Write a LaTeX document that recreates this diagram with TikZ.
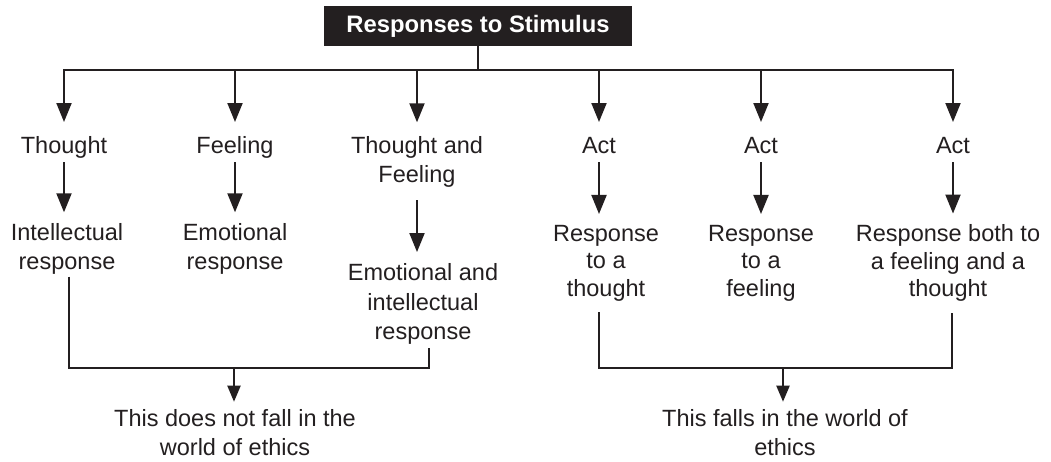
\documentclass[tikz,border=0pt]{standalone}
\usepackage{fontspec}
\setmainfont{Liberation Sans}
\usetikzlibrary{arrows.meta}
\definecolor{ink}{HTML}{231F20}
\begin{document}
\begin{tikzpicture}[x=1pt,y=-1pt,
  every node/.style={inner sep=0pt,outer sep=0pt,text=ink},
  txt/.style={align=center,font=\fontsize{23.5}{29.5}\selectfont},
  txtr/.style={align=center,font=\fontsize{23.5}{27.5}\selectfont},
  txtb/.style={align=center,font=\fontsize{23.5}{28.3}\selectfont},
  one/.style={text height=17pt,text depth=5pt},
  link/.style={draw=ink,line width=2pt,line join=miter},
  arr/.style={link,-{Triangle[length=19pt,width=15pt]}},
  arrs/.style={link,-{Triangle[length=16pt,width=13pt]}},
  head/.style={fill=ink,text=white,font=\fontsize{23.8}{27}\selectfont\bfseries,
    minimum width=308pt,minimum height=40pt}
]
\useasboundingbox (0,0) rectangle (1051,461);

% heading
\node[head] (title) at (478,26) {Responses to Stimulus};
\coordinate (bus) at (478,70);

% first row: kinds of response
\node[txt,one] (t1) at (64,147) {Thought};
\node[txt,one] (t2) at (235,147) {Feeling};
\node[txt] (t3) at (417,162) {Thought and\\Feeling};
\node[txt,one] (t4) at (599,147) {Act};
\node[txt,one] (t5) at (761,147) {Act};
\node[txt,one] (t6) at (953,147) {Act};

% second row: what each one is
\node[txt] (r1) at (67,249) {Intellectual\\response};
\node[txt] (r2) at (235,249) {Emotional\\response};
\node[txt] (r3) at (423,304) {Emotional and\\intellectual\\response};
\node[txtr] (r4) at (606,263) {Response\\to a\\thought};
\node[txtr] (r5) at (761,263) {Response\\to a\\feeling};
\node[txtr] (r6) at (948,263) {Response both to\\a feeling and a\\thought};

% conclusions
\coordinate (lj) at (234,368);
\coordinate (rj) at (783,368);
\node[txtb] (b1) at (235,432.5) {This does not fall in the\\world of ethics};
\node[txtb] (b2) at (785,432.5) {This falls in the world of\\ethics};

% heading to the branches
\draw[link] (title.south) -- (bus);
\draw[link,line cap=rect] (t1.north |- bus) -- (t6.north |- bus);
\foreach \n in {t1,t2,t3,t4,t5,t6}
  \draw[arr,shorten >=14pt] (\n.north |- bus) -- (\n.north);

% branches to their responses
\foreach \a/\b in {t1/r1,t2/r2,t4/r4,t5/r5,t6/r6}
  \draw[arr,shorten <=4pt,shorten >=11pt] (\a.south) -- (\a.south |- \b.north);
\draw[arr,shorten <=12.5pt,shorten >=11.5pt] (t3.south) -- (t3.south |- r3.north);

% grouping brackets
\draw[link,shorten <=2pt,shorten >=4pt]
  ([xshift=2pt]r1.south) -- ([xshift=2pt]r1.south |- lj) -| ([xshift=6pt]r3.south);
\draw[link,shorten <=11pt,shorten >=12pt]
  ([xshift=-7pt]r4.south) -- ([xshift=-7pt]r4.south |- rj) -| ([xshift=4pt]r6.south);
\draw[arrs,shorten >=8pt] (lj) -- (lj |- b1.north);
\draw[arrs,shorten >=8pt] (rj) -- (rj |- b2.north);
\end{tikzpicture}
\end{document}
